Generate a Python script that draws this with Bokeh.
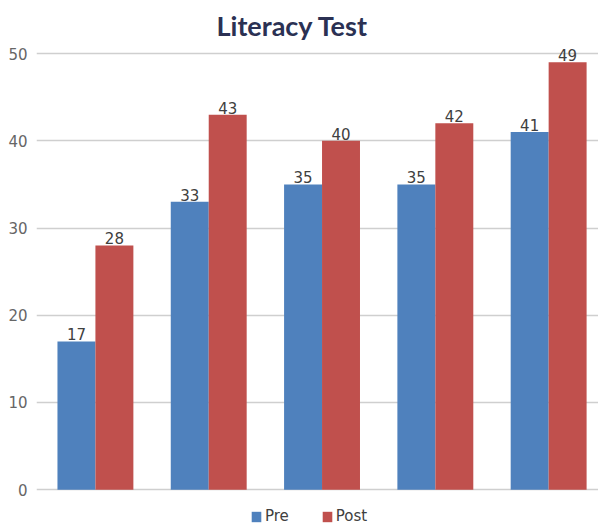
from bokeh.plotting import figure
from bokeh.models import Range1d, ColumnDataSource, LabelSet, Legend, LegendItem, FixedTicker
from bokeh.core.properties import value
from bokeh.embed import file_html
from bokeh.resources import INLINE
from bokeh.transform import dodge

groups = ["1", "2", "3", "4", "5"]
pre = [17, 33, 35, 35, 41]
post = [28, 43, 40, 42, 49]
series = ["Pre", "Post"]
colors = ["#4F81BD", "#C0504D"]
y_ticks = [0, 10, 20, 30, 40, 50]

xs = [i + 0.5 for i in range(len(groups))]
src = ColumnDataSource(dict(x=xs, pre=pre, post=post,
                            pre_t=[str(v) for v in pre], post_t=[str(v) for v in post]))

p = figure(width=598, height=524, output_backend="svg", toolbar_location=None,
           x_range=Range1d(-0.02, 4.94), y_range=Range1d(-3.995, 50.7),
           min_border_left=36, min_border_right=0, min_border_top=45, min_border_bottom=0)
p.outline_line_color = None
p.background_fill_color = "white"

bw = 0.335
r1 = p.vbar(x=dodge("x", -bw / 2, range=p.x_range), top="pre", bottom=0, width=bw, source=src,
            fill_color=colors[0], line_color=None)
r2 = p.vbar(x=dodge("x", bw / 2, range=p.x_range), top="post", bottom=0, width=bw, source=src,
            fill_color=colors[1], line_color=None)

for col, off in (("pre", -bw / 2), ("post", bw / 2)):
    p.add_layout(LabelSet(x=dodge("x", off, range=p.x_range), y=col, text=col + "_t", source=src,
                          text_align="center", text_baseline="bottom", y_offset=1,
                          text_font=value("DejaVu Sans"), text_font_size=value("15px"),
                          text_color="#404040"))

p.xaxis.visible = False
p.xgrid.grid_line_color = None
p.ygrid.grid_line_color = "#cfcfcf"
p.ygrid.grid_line_width = 1.5
p.yaxis.ticker = FixedTicker(ticks=y_ticks)
p.yaxis.axis_line_color = None
p.yaxis.major_tick_line_color = None
p.yaxis.minor_tick_line_color = None
p.yaxis.major_label_standoff = 3
p.yaxis.major_label_text_font = "DejaVu Sans"
p.yaxis.major_label_text_font_size = "15px"
p.yaxis.major_label_text_color = "#666666"

p.title.text = "Literacy Test"
p.title.text_font = "Lato"
p.title.text_font_style = "bold"
p.title.text_font_size = "27px"
p.title.text_color = "#2B3153"
p.title.align = "left"
p.title.offset = 180
p.title.standoff = 12

legend = Legend(items=[LegendItem(label=series[0], renderers=[r1]),
                       LegendItem(label=series[1], renderers=[r2])],
                orientation="horizontal", location=(214, -1),
                glyph_width=12, glyph_height=13, label_standoff=3, spacing=32,
                padding=0, margin=0, border_line_color=None, background_fill_alpha=0,
                label_text_font="DejaVu Sans", label_text_font_size="15px",
                label_text_color="#404040")
p.add_layout(legend, "center")

open("out.html", "w").write(file_html(p, INLINE))
